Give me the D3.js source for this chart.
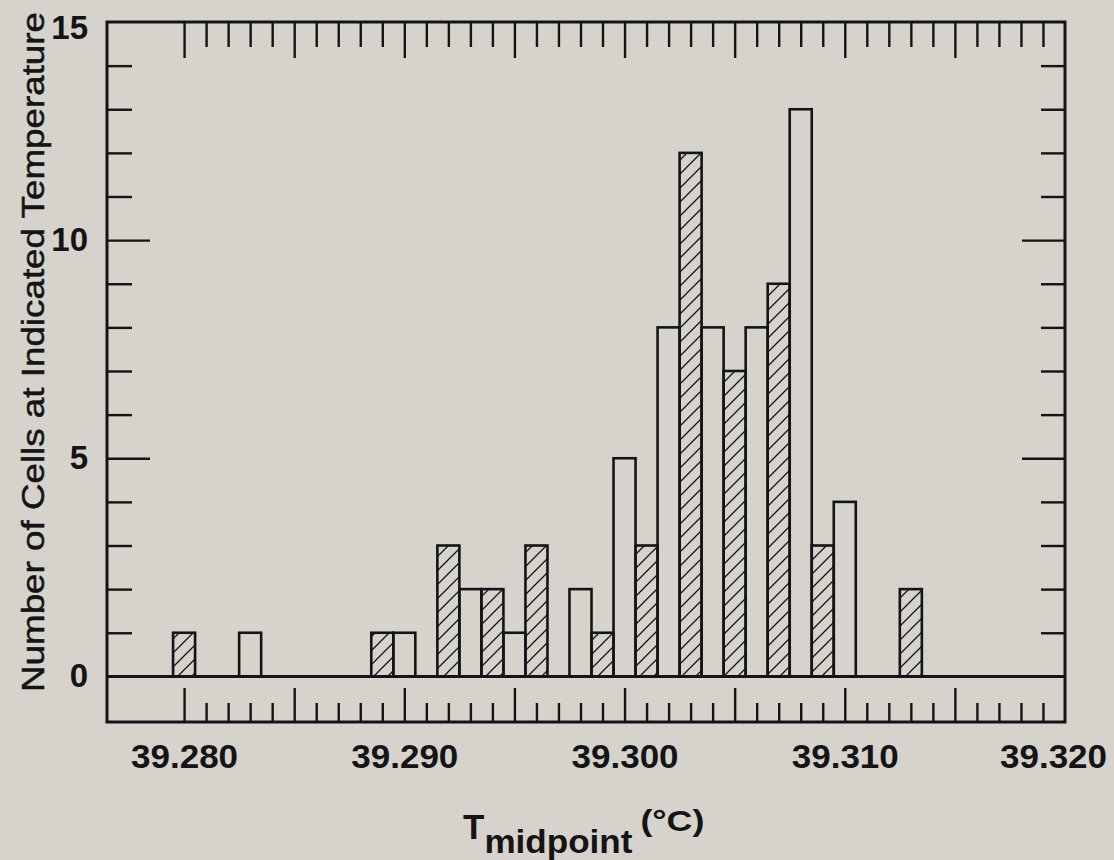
<!DOCTYPE html>
<html>
<head>
<meta charset="utf-8">
<script src="https://cdn.jsdelivr.net/npm/d3@7"></script>
<style>
  html, body { margin: 0; padding: 0; background: #d6d2cc; }
  svg { display: block; }
  text { font-family: "Liberation Sans", Arial, Helvetica, sans-serif; fill: #141414; }
</style>
</head>
<body>
<svg id="chart" width="1114" height="860"></svg>
<script>
// Histogram of cell midpoint temperatures, two groups (hatched / open bars)
const hatchedTemps  = [39.280, 39.289, 39.292, 39.294, 39.296, 39.299, 39.301, 39.303, 39.305, 39.307, 39.309, 39.313];
const hatchedCounts = [1, 1, 3, 2, 3, 1, 3, 12, 7, 9, 3, 2];
const openTemps     = [39.283, 39.290, 39.293, 39.295, 39.298, 39.300, 39.302, 39.304, 39.306, 39.308, 39.310];
const openCounts    = [1, 1, 2, 1, 2, 5, 8, 8, 8, 13, 4];

const binWidth = 0.001;
const xLabelTicks = [39.280, 39.290, 39.300, 39.310, 39.320];
const yLabelTicks = [0, 5, 10, 15];

const plotLeft = 107, plotRight = 1065, plotTop = 22, plotBottom = 720;
const ink = "#141414";

const svg = d3.select("#chart");

const x = d3.scaleLinear().domain([39.2765, 39.320]).range([plotLeft, plotRight]);
const y = d3.scaleLinear().domain([-1, 15]).range([plotBottom, plotTop]);

// diagonal hatch pattern
const defs = svg.append("defs");
const pat = defs.append("pattern")
  .attr("id", "hatch")
  .attr("patternUnits", "userSpaceOnUse")
  .attr("width", 14).attr("height", 14);
pat.append("path")
  .attr("d", "M0,14 L14,0 M-2,2 L2,-2 M12,16 L16,12")
  .attr("stroke", ink).attr("stroke-width", 1.3).attr("fill", "none");

// tick sets along the temperature axis (every 0.001, long every 0.005)
const minorX = d3.range(0, 40).map(i => +(39.280 + i * 0.001).toFixed(3));
const shortX = minorX.filter((d, i) => i % 5 !== 0);
const longX  = minorX.filter((d, i) => i % 5 === 0);
const minorY = d3.range(1, 15).filter(v => v % 5 !== 0);
const majorY = [5, 10];

function tickAxis(axis, transform) {
  const g = svg.append("g").attr("transform", transform).call(axis);
  g.select(".domain").remove();
  g.selectAll(".tick line").attr("stroke", ink).attr("stroke-width", 2.4);
  g.selectAll(".tick text").remove();
  return g;
}

// bottom frame ticks pointing up
tickAxis(d3.axisBottom(x).tickValues(shortX).tickSize(-19), `translate(0,${plotBottom + 2})`);
tickAxis(d3.axisBottom(x).tickValues(longX).tickSize(-34), `translate(0,${plotBottom + 2})`);
// top frame ticks pointing down
tickAxis(d3.axisTop(x).tickValues(shortX).tickSize(-25), `translate(0,${plotTop})`);
tickAxis(d3.axisTop(x).tickValues(longX).tickSize(-36), `translate(0,${plotTop})`);
// left and right frame ticks pointing inward
tickAxis(d3.axisLeft(y).tickValues(minorY).tickSize(-25), `translate(${plotLeft},0)`);
tickAxis(d3.axisLeft(y).tickValues(majorY).tickSize(-43), `translate(${plotLeft},0)`);
tickAxis(d3.axisRight(y).tickValues(minorY).tickSize(-24), `translate(${plotRight},0)`);
tickAxis(d3.axisRight(y).tickValues(majorY).tickSize(-43), `translate(${plotRight},0)`);

// bars
function drawBars(temps, counts, fill) {
  svg.append("g").selectAll("rect")
    .data(temps.map((t, i) => ({ t, c: counts[i] })))
    .join("rect")
    .attr("x", d => x(d.t - binWidth / 2))
    .attr("width", d => x(d.t + binWidth / 2) - x(d.t - binWidth / 2))
    .attr("y", d => y(d.c))
    .attr("height", d => y(0) - y(d.c))
    .attr("fill", fill)
    .attr("stroke", ink)
    .attr("stroke-width", 2.6)
    .attr("stroke-linejoin", "miter");
}
drawBars(openTemps, openCounts, "none");
drawBars(hatchedTemps, hatchedCounts, "url(#hatch)");

// zero line
svg.append("line")
  .attr("x1", plotLeft).attr("x2", plotRight)
  .attr("y1", y(0)).attr("y2", y(0))
  .attr("stroke", ink).attr("stroke-width", 3);

// frame
svg.append("rect")
  .attr("x", plotLeft).attr("y", plotTop)
  .attr("width", plotRight - plotLeft).attr("height", plotBottom + 2 - plotTop)
  .attr("fill", "none").attr("stroke", ink).attr("stroke-width", 3);

// tick labels
const xl = svg.append("g")
  .attr("transform", `translate(0,${plotBottom + 2})`)
  .call(d3.axisBottom(x).tickValues(xLabelTicks).tickSize(0).tickPadding(23).tickFormat(d3.format(".3f")));
xl.select(".domain").remove();
xl.selectAll(".tick text")
  .attr("fill", ink)
  .style("font-size", "33px").style("font-weight", "bold")
  .attr("textLength", 107).attr("lengthAdjust", "spacingAndGlyphs");
// keep the last label inside the page, ending under the right frame
xl.selectAll(".tick text").filter(d => d === 39.320).attr("dx", -12);

const yl = svg.append("g")
  .attr("transform", `translate(${plotLeft},0)`)
  .call(d3.axisLeft(y).tickValues(yLabelTicks).tickSize(0).tickPadding(19));
yl.select(".domain").remove();
yl.selectAll(".tick text")
  .attr("fill", ink)
  .style("font-size", "33px").style("font-weight", "bold");
yl.selectAll(".tick text").filter(d => d === 15).attr("dy", "0.5em");

// axis titles
svg.append("text")
  .attr("transform", "translate(44,352) rotate(-90)")
  .attr("text-anchor", "middle")
  .attr("textLength", 680).attr("lengthAdjust", "spacingAndGlyphs")
  .style("font-size", "32px")
  .style("stroke", ink).style("stroke-width", 0.5)
  .text("Number of Cells at Indicated Temperature");

const xt = svg.append("text")
  .attr("x", 463).attr("y", 839)
  .style("font-weight", "bold");
xt.append("tspan").style("font-size", "35px").text("T");
xt.append("tspan").attr("dy", 14).style("font-size", "34px")
  .attr("textLength", 148).attr("lengthAdjust", "spacingAndGlyphs").text("midpoint");
xt.append("tspan").attr("dx", 8).attr("dy", -22).style("font-size", "30px")
  .attr("textLength", 64).attr("lengthAdjust", "spacingAndGlyphs").text("(°C)");
</script>
</body>
</html>
